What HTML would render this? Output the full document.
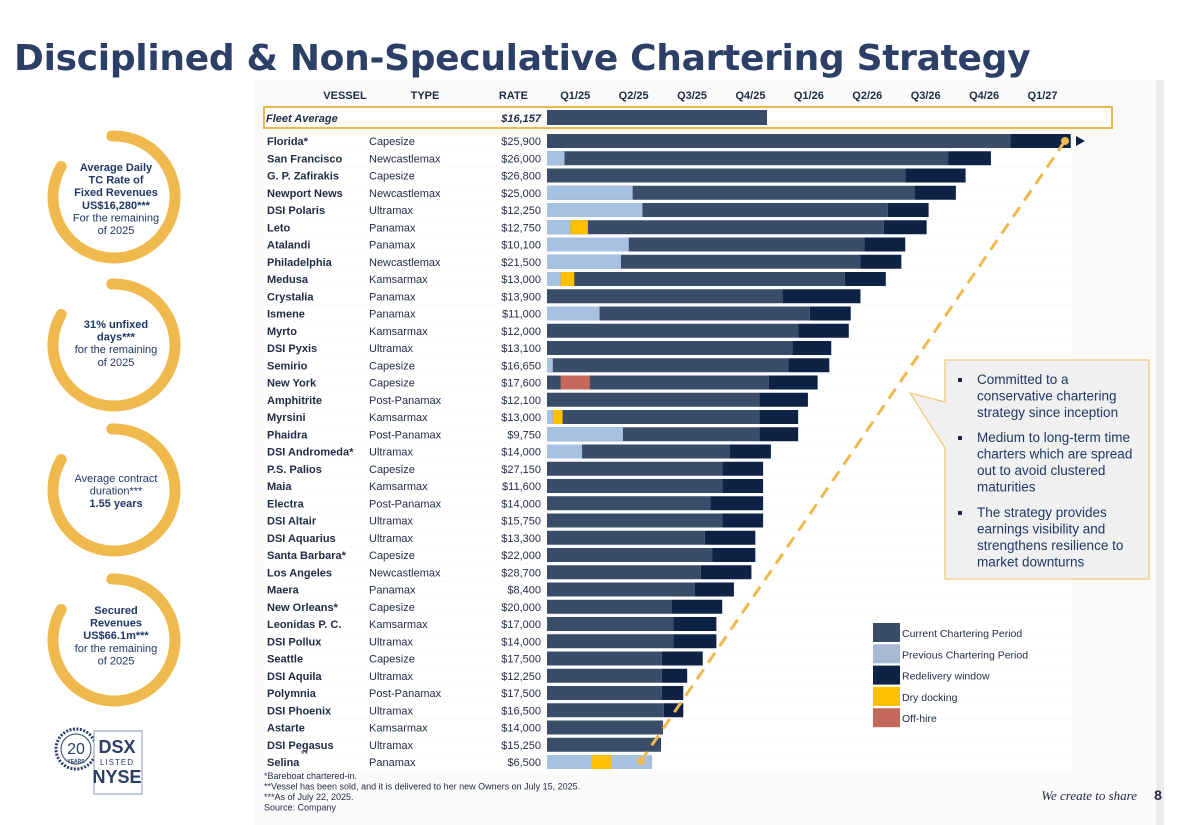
<!DOCTYPE html>
<html><head><meta charset="utf-8">
<style>
body{margin:0;width:1192px;height:825px;background:#fff;font-family:"Liberation Sans",sans-serif;overflow:hidden;position:relative}
#title{position:absolute;left:14px;top:38px;font-family:"DejaVu Sans",sans-serif;font-size:36px;font-weight:bold;color:#2B3F67;white-space:nowrap;letter-spacing:-0.3px}
svg text{font-family:"Liberation Sans Narrow","Liberation Sans",sans-serif}
</style></head><body>
<div id="title">Disciplined &amp; Non-Speculative Chartering Strategy</div>
<svg width="1192" height="825" style="position:absolute;left:0;top:0">
<rect x="255" y="80" width="908" height="745" fill="#fafafa"/>
<rect x="1156" y="80" width="8" height="745" fill="#ececec"/>
<g id="left"></g>
<g id="chart"></g>
</svg>
<script>
const vessels=["Florida*","San Francisco","G. P. Zafirakis","Newport News","DSI Polaris","Leto","Atalandi","Philadelphia","Medusa","Crystalia","Ismene","Myrto","DSI Pyxis","Semirio","New York","Amphitrite","Myrsini","Phaidra","DSI Andromeda*","P.S. Palios","Maia","Electra","DSI Altair","DSI Aquarius","Santa Barbara*","Los Angeles","Maera","New Orleans*","Leonidas P. C.","DSI Pollux","Seattle","DSI Aquila","Polymnia","DSI Phoenix","Astarte","DSI Pegasus","Selina"];
const types=["Capesize","Newcastlemax","Capesize","Newcastlemax","Ultramax","Panamax","Panamax","Newcastlemax","Kamsarmax","Panamax","Panamax","Kamsarmax","Ultramax","Capesize","Capesize","Post-Panamax","Kamsarmax","Post-Panamax","Ultramax","Capesize","Kamsarmax","Post-Panamax","Ultramax","Ultramax","Capesize","Newcastlemax","Panamax","Capesize","Kamsarmax","Ultramax","Capesize","Ultramax","Post-Panamax","Ultramax","Kamsarmax","Ultramax","Panamax"];
const rates=["$25,900","$26,000","$26,800","$25,000","$12,250","$12,750","$10,100","$21,500","$13,000","$13,900","$11,000","$12,000","$13,100","$16,650","$17,600","$12,100","$13,000","$9,750","$14,000","$27,150","$11,600","$14,000","$15,750","$13,300","$22,000","$28,700","$8,400","$20,000","$17,000","$14,000","$17,500","$12,250","$17,500","$16,500","$14,000","$15,250","$6,500"];
// months from Jan 2025
const prevEnd=[0,0.9,0,4.4,4.9,1.2,4.2,3.8,0.7,0,2.7,0,0,0.3,0,0,0.3,3.9,1.8,0,0,0,0,0,0,0,0,0,0,0,0,0,0,0,0,0,5.4];
const currentEnd=[23.8,20.6,18.4,18.9,17.5,17.3,16.3,16.1,15.3,12.1,13.5,12.9,12.6,12.4,11.4,10.9,10.9,10.9,9.4,9.0,9.0,8.4,9.0,8.1,8.5,7.9,7.6,6.4,6.5,6.5,5.9,5.9,5.9,6.0,5.9,5.8,0];
const redeliveryEnd=[26.9,22.8,21.5,21.0,19.6,19.5,18.4,18.2,17.4,16.1,15.6,15.5,14.6,14.5,13.9,13.4,12.9,12.9,11.5,11.1,11.1,11.1,11.1,10.7,10.7,10.5,9.6,9.0,8.7,8.7,8.0,7.2,7.0,7.0,5.95,5.85,0];
const dryDocking=[[5,1.2,2.1],[8,0.7,1.4],[16,0.3,0.8],[36,2.3,3.3]];
const offHire=[[14,0.7,2.2]];
const quarters=["Q1/25","Q2/25","Q3/25","Q4/25","Q1/26","Q2/26","Q3/26","Q4/26","Q1/27"];
const fleetAvgRate="$16,157";
const fleetAvgEnd=11.3;

const NS="http://www.w3.org/2000/svg";
const X0=547,MW=19.47,Y0=141,RH=17.25,BH=14;
const xs=m=>X0+m*MW, ys=i=>Y0+i*RH;
const C={cur:"#394D69",prev:"#A7C1E3",red:"#0E2246",dry:"#FFC000",off:"#C5695A",txt:"#1F2A44",gold:"#F0B94E"};
function mk(tag,at,p){const e=document.createElementNS(NS,tag);for(const k in at)e.setAttribute(k,at[k]);(p||g).appendChild(e);return e;}
const g=document.getElementById('chart');
function txt(x,y,s,o){const t=mk('text',Object.assign({x:x,y:y,'font-size':11,fill:C.txt},o||{}));t.textContent=s;return t;}
let h=txt(345,99,"VESSEL",{'font-weight':'bold','text-anchor':'middle'});
h=txt(425,99,"TYPE",{'font-weight':'bold','text-anchor':'middle'});
h=txt(528,99,"RATE",{'font-weight':'bold','text-anchor':'end'});
quarters.forEach((q,i)=>{const t=txt(xs(i*3+1.45),99,q,{'font-weight':'bold','text-anchor':'middle'});

});
let r=mk('rect',{x:264,y:107,width:848,height:21,fill:'#fff',stroke:C.gold,'stroke-width':2});

txt(266,122,"Fleet Average",{'font-weight':'bold','font-style':'italic'});
txt(541,122,fleetAvgRate,{'font-weight':'bold','font-style':'italic','text-anchor':'end'});
r=mk('rect',{x:X0,y:110,width:xs(fleetAvgEnd)-X0,height:15,fill:C.cur});

vessels.forEach((v,i)=>{
 const y=ys(i);
 const bg=mk('rect',{x:264,y:y-8,width:808,height:RH-1,fill:'#fff'});
 
 
 let t=txt(267,y+4,v,{'font-weight':'bold'});
 
 
 t=txt(369,y+4,types[i]);
 
 
 t=txt(541,y+4,rates[i],{'text-anchor':'end'});
 
 
 if(currentEnd[i]>0){
  const b=mk('rect',{x:X0,y:y-7,width:xs(currentEnd[i])-X0,height:BH,fill:C.cur});
  
  
 }
 if(redeliveryEnd[i]>currentEnd[i]){
  const b=mk('rect',{x:xs(currentEnd[i]),y:y-7,width:(redeliveryEnd[i]-currentEnd[i])*MW,height:BH,fill:C.red});
  
  
 }
 if(prevEnd[i]>0){
  const b=mk('rect',{x:X0,y:y-7,width:prevEnd[i]*MW,height:BH,fill:C.prev});
  
  
 }
});
dryDocking.forEach(d=>{const b=mk('rect',{x:xs(d[1]),y:ys(d[0])-7,width:(d[2]-d[1])*MW,height:BH,fill:C.dry});

});
offHire.forEach(d=>{const b=mk('rect',{x:xs(d[1]),y:ys(d[0])-7,width:(d[2]-d[1])*MW,height:BH,fill:C.off});

});
txt(301,757,"**",{'font-size':9});
let a=mk('polygon',{points:"1076,136 1085,141 1076,146",fill:C.red});
let l=mk('line',{x1:1065,y1:141,x2:641,y2:761,stroke:C.gold,'stroke-width':3,'stroke-dasharray':'12,8'});
mk('circle',{cx:1065,cy:141,r:4,fill:C.gold});mk('circle',{cx:641,cy:761,r:4,fill:C.gold});
let co=mk('path',{d:"M945,360 L1149,360 L1149,579 L945,579 L945,448 L910,393 L945,402 Z",fill:'#f0f0f0',stroke:'#F3C77A','stroke-width':1.2});

const bul=[[384,["Committed to a","conservative chartering","strategy since inception"]],[442,["Medium to long-term time","charters which are spread","out to avoid clustered","maturities"]],[517,["The strategy provides","earnings visibility and","strengthens resilience to","market downturns"]]];
bul.forEach(b=>{mk('rect',{x:958,y:b[0]-6,width:4,height:4,fill:C.txt});b[1].forEach((s,j)=>{const t=txt(977,b[0]+j*16.5,s,{'font-size':13.5,fill:'#1F3864'});t.setAttribute('style','font-family:"Liberation Sans",sans-serif');});});
const legend=[["Current Chartering Period",C.cur],["Previous Chartering Period","#A7B9D2"],["Redelivery window",C.red],["Dry docking",C.dry],["Off-hire",C.off]];
legend.forEach((e,i)=>{const y=623+i*21.3;mk('rect',{x:873,y:y,width:27,height:19,fill:e[1]});
const t=txt(902,y+14,e[0],{'font-size':10.5,fill:'#1F2A44'});

});
["*Bareboat chartered-in.","**Vessel has been sold, and it is delivered to her new Owners on July 15, 2025.","***As of July 22, 2025.","Source: Company"].forEach((s,i)=>{const t=txt(264,779+i*10.5,s,{'font-size':9});});
let w=txt(1137,800,"We create to share",{'font-size':13,'font-style':'italic',fill:'#1F2A44','text-anchor':'end'});w.setAttribute('style','font-family:"Liberation Serif",serif');
let pn=txt(1158,800,"8",{'font-size':14,'font-weight':'bold','text-anchor':'middle'});
const L=document.getElementById('left');
const kpis=[[197,[["Average Daily",1],["TC Rate of",1],["Fixed Revenues",1],["US$16,280***",1],["For the remaining",0],["of 2025",0]],171],
[345,[["31% unfixed",1],["days***",1],["for the remaining",0],["of 2025",0]],328],
[490,[["Average contract",0],["duration***",0],["1.55 years",1]],482],
[640,[["Secured",1],["Revenues",1],["US$66.1m***",1],["for the remaining",0],["of 2025",0]],614]];
kpis.forEach(k=>{const cy=k[0],R=61,a1=-92*Math.PI/180,a2=-150*Math.PI/180;
 const p=mk('path',{d:`M${114+R*Math.cos(a1)},${cy+R*Math.sin(a1)} A${R},${R} 0 1 1 ${114+R*Math.cos(a2)},${cy+R*Math.sin(a2)}`,fill:'none',stroke:C.gold,'stroke-width':11,'stroke-linecap':'round'},L);
 
 
 k[1].forEach((s,j)=>{const t=mk('text',{x:116,y:k[2]+j*12.6,'font-size':11,'text-anchor':'middle',fill:'#1F3864','font-weight':s[1]?'bold':'normal'},L);t.setAttribute('style','font-family:"Liberation Sans",sans-serif');t.textContent=s[0];});
});
const lg=mk('g',{},L);
mk('circle',{cx:76,cy:749,r:20,fill:'none',stroke:'#2B3F67','stroke-width':3,'stroke-dasharray':'2,1.5'},lg);
mk('circle',{cx:76,cy:749,r:15,fill:'none',stroke:'#2B3F67','stroke-width':1},lg);
let t20=mk('text',{x:76,y:754,'font-size':16,'text-anchor':'middle',fill:'#2B3F67'},lg);t20.textContent="20";
let ty=mk('text',{x:76,y:763,'font-size':5,'text-anchor':'middle',fill:'#2B3F67','font-weight':'bold'},lg);ty.textContent="YEARS";
mk('rect',{x:94,y:731,width:48,height:63,fill:'#fff',stroke:'#8898B8','stroke-width':1},lg);
let d1=mk('text',{x:117,y:753,'font-size':18,'font-weight':'bold','text-anchor':'middle',fill:'#2B3F67'},lg);d1.textContent="DSX";
let d2=mk('text',{x:117,y:765,'font-size':8,'text-anchor':'middle',fill:'#2B3F67','letter-spacing':'1'},lg);d2.textContent="LISTED";
let d3=mk('text',{x:117,y:783,'font-size':18,'font-weight':'bold','text-anchor':'middle',fill:'#2B3F67'},lg);d3.textContent="NYSE";
</script>
</body></html>
